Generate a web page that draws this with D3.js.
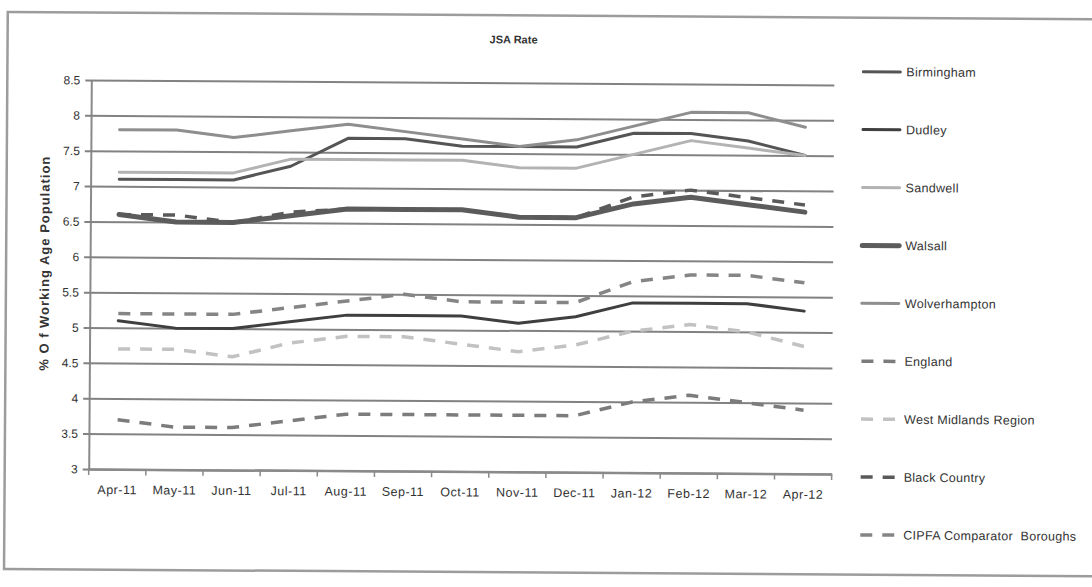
<!DOCTYPE html>
<html>
<head>
<meta charset="utf-8">
<script src="https://cdn.jsdelivr.net/npm/d3@7"></script>
<style>
  html, body { margin: 0; padding: 0; background: #fff; }
  svg { display: block; font-family: "Liberation Sans", Arial, sans-serif; }
</style>
</head>
<body>
<svg id="chart" width="1092" height="587"></svg>
<script>
// Monthly JSA claimant rate, % of working age population
const months = ["Apr-11", "May-11", "Jun-11", "Jul-11", "Aug-11", "Sep-11", "Oct-11",
                "Nov-11", "Dec-11", "Jan-12", "Feb-12", "Mar-12", "Apr-12"];

const birmingham    = [7.1, 7.1, 7.1, 7.3, 7.7, 7.7, 7.6, 7.6, 7.6, 7.8, 7.8, 7.7, 7.5];
const dudley        = [5.1, 5.0, 5.0, 5.1, 5.2, 5.2, 5.2, 5.1, 5.2, 5.4, 5.4, 5.4, 5.3];
const sandwell      = [7.2, 7.2, 7.2, 7.4, 7.4, 7.4, 7.4, 7.3, 7.3, 7.5, 7.7, 7.6, 7.5];
const walsall       = [6.6, 6.5, 6.5, 6.6, 6.7, 6.7, 6.7, 6.6, 6.6, 6.8, 6.9, 6.8, 6.7];
const wolverhampton = [7.8, 7.8, 7.7, 7.8, 7.9, 7.8, 7.7, 7.6, 7.7, 7.9, 8.1, 8.1, 7.9];
const england       = [3.7, 3.6, 3.6, 3.7, 3.8, 3.8, 3.8, 3.8, 3.8, 4.0, 4.1, 4.0, 3.9];
const westMidlands  = [4.7, 4.7, 4.6, 4.8, 4.9, 4.9, 4.8, 4.7, 4.8, 5.0, 5.1, 5.0, 4.8];
const blackCountry  = [6.6, 6.6, 6.5, 6.65, 6.7, 6.7, 6.7, 6.6, 6.6, 6.9, 7.0, 6.9, 6.8];
const cipfa         = [5.2, 5.2, 5.2, 5.3, 5.4, 5.5, 5.4, 5.4, 5.4, 5.7, 5.8, 5.8, 5.7];

const yTicks = [3, 3.5, 4, 4.5, 5, 5.5, 6, 6.5, 7, 7.5, 8, 8.5];

const titleText = "JSA Rate";
const yTitleText = "% O f Working Age Population";

// series table: order matches the legend and the drawing order
const series = [
  { name: "Birmingham",                 values: birmingham,    color: "#555555", width: 3,   dash: null },
  { name: "Dudley",                     values: dudley,        color: "#3f3f3f", width: 3,   dash: null },
  { name: "Sandwell",                   values: sandwell,      color: "#b3b3b3", width: 3,   dash: null },
  { name: "Walsall",                    values: walsall,       color: "#5c5c5c", width: 5,   dash: null },
  { name: "Wolverhampton",              values: wolverhampton, color: "#8e8e8e", width: 3,   dash: null },
  { name: "England",                    values: england,       color: "#7c7c7c", width: 3.5, dash: "12,10" },
  { name: "West Midlands Region",       values: westMidlands,  color: "#c2c2c2", width: 3.5, dash: "12,10" },
  { name: "Black Country",              values: blackCountry,  color: "#5a5a5a", width: 3.5, dash: "12,10" },
  { name: "CIPFA Comparator  Boroughs", values: cipfa,         color: "#858585", width: 3.5, dash: "12,10" }
];

const svg = d3.select("#chart");

// the whole sheet sits very slightly tilted
const root = svg.append("g").attr("transform", "rotate(0.385, 461, 277)");

// outer chart frame
root.append("rect")
  .attr("x", 6).attr("y", 15).attr("width", 1110).attr("height", 557)
  .attr("fill", "none").attr("stroke", "#9c9c9c").attr("stroke-width", 2.5);

const plot = { left: 90, right: 833, top: 82.5, bottom: 471.5 };

const x = d3.scaleBand().domain(months).range([plot.left, plot.right]).padding(0);
const y = d3.scaleLinear().domain([3, 8.5]).range([plot.bottom, plot.top]);

// horizontal gridlines with short outer ticks
const yAxis = d3.axisLeft(y)
  .tickValues(yTicks)
  .tickSize(-(plot.right - plot.left))
  .tickSizeOuter(0)
  .tickPadding(11)
  .tickFormat(d => String(d));

const gy = root.append("g")
  .attr("transform", `translate(${plot.left},0)`)
  .call(yAxis);
gy.select(".domain").attr("stroke", "#8a8a8a").attr("stroke-width", 2);
gy.selectAll(".tick line")
  .attr("x1", -6)
  .attr("stroke", "#828282").attr("stroke-width", 2);
gy.selectAll(".tick text")
  .attr("font-size", 12).attr("fill", "#333")
  .attr("font-family", "Liberation Sans, Arial, sans-serif");

// category axis: ticks sit between months
const xAxis = d3.axisBottom(x).tickSize(0).tickPadding(16);
const gx = root.append("g")
  .attr("transform", `translate(0,${plot.bottom})`)
  .call(xAxis);
gx.select(".domain").attr("stroke", "#8a8a8a").attr("stroke-width", 2.5);
gx.selectAll(".tick text")
  .attr("font-size", 12.5).attr("letter-spacing", 0.5).attr("fill", "#333")
  .attr("font-family", "Liberation Sans, Arial, sans-serif");

const edges = months.map(m => x(m)).concat([plot.right]);
gx.selectAll("line.sep")
  .data(edges)
  .join("line")
  .attr("class", "sep")
  .attr("x1", d => d).attr("x2", d => d)
  .attr("y1", 0).attr("y2", 6)
  .attr("stroke", "#8a8a8a").attr("stroke-width", 1.5);

// title
root.append("text")
  .attr("x", 512).attr("y", 43)
  .attr("text-anchor", "middle")
  .attr("font-size", 11).attr("font-weight", "bold").attr("fill", "#333")
  .text(titleText);

// y axis title
root.append("text")
  .attr("transform", "translate(49,266) rotate(-90)")
  .attr("text-anchor", "middle")
  .attr("font-size", 13).attr("letter-spacing", 1).attr("font-weight", "bold").attr("fill", "#333")
  .text(yTitleText);

// series lines
const line = d3.line()
  .x((d, i) => x(months[i]) + x.bandwidth() / 2)
  .y(d => y(d));

root.append("g")
  .selectAll("path")
  .data(series)
  .join("path")
  .attr("d", s => line(s.values))
  .attr("fill", "none")
  .attr("stroke", s => s.color)
  .attr("stroke-width", s => s.width)
  .attr("stroke-dasharray", s => s.dash)
  .attr("stroke-linejoin", "round")
  .attr("stroke-linecap", s => s.dash ? "butt" : "round");

// legend
const legend = root.append("g").attr("transform", "translate(862,69)");
const item = legend.selectAll("g")
  .data(series)
  .join("g")
  .attr("transform", (d, i) => `translate(0,${i * 57.9})`);
item.append("line")
  .attr("x1", 0).attr("x2", s => s.dash ? 34 : 37)
  .attr("y1", 0).attr("y2", 0)
  .attr("stroke", s => s.color)
  .attr("stroke-width", s => s.width)
  .attr("stroke-dasharray", s => s.dash)
  .attr("stroke-linecap", s => s.dash ? "butt" : "round");
item.append("text")
  .attr("x", 43).attr("y", 0).attr("dy", "0.35em")
  .attr("font-size", 12.5).attr("letter-spacing", 0.3).attr("fill", "#333")
  .attr("xml:space", "preserve")
  .text(s => s.name);
</script>
</body>
</html>
